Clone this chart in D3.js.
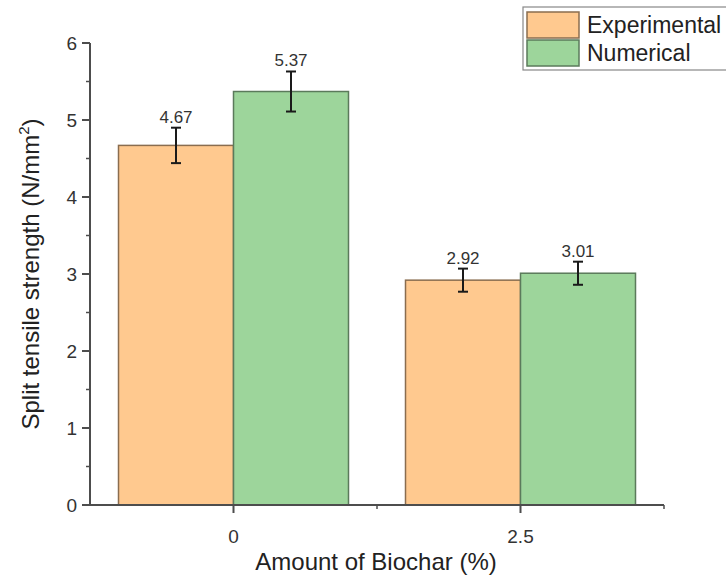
<!DOCTYPE html>
<html>
<head>
<meta charset="utf-8">
<script src="https://cdn.jsdelivr.net/npm/d3@7"></script>
<style>
  html, body { margin: 0; padding: 0; background: #fff; }
  svg { display: block; font-family: "Liberation Sans", Arial, sans-serif; }
</style>
</head>
<body>
<svg id="chart" width="726" height="578"></svg>
<script>
const categories = ["0", "2.5"];
const seriesNames = ["Experimental", "Numerical"];
const experimental = [4.67, 2.92];
const numerical = [5.37, 3.01];
const experimentalErr = [0.23, 0.15];
const numericalErr = [0.26, 0.15];
const yTicks = [0, 1, 2, 3, 4, 5, 6];
const yMinorTicks = [0.5, 1.5, 2.5, 3.5, 4.5, 5.5];
const seriesColors = ["#FFC98F", "#9DD59B"];
const seriesStroke = ["#8a6d4f", "#5b7a5b"];

const svg = d3.select("#chart");
const plotLeft = 90, plotRight = 664, plotTop = 43, plotBottom = 505;
const axisColor = "#4d4d4d";

const x = d3.scalePoint().domain(categories).range([plotLeft, plotRight]).padding(0.5);
const xs = d3.scaleBand().domain(seriesNames).range([-115, 115]).padding(0);
const y = d3.scaleLinear().domain([0, 6]).range([plotBottom, plotTop]);

const rows = categories.map((c, i) => ({
  cat: c,
  vals: [
    { s: seriesNames[0], v: experimental[i], e: experimentalErr[i], k: 0 },
    { s: seriesNames[1], v: numerical[i], e: numericalErr[i], k: 1 }
  ]
}));

// Bars
const g = svg.append("g");
const groups = g.selectAll("g.grp").data(rows).enter().append("g")
  .attr("transform", d => `translate(${x(d.cat)},0)`);

groups.selectAll("rect").data(d => d.vals).enter().append("rect")
  .attr("x", d => xs(d.s))
  .attr("width", xs.bandwidth())
  .attr("y", d => y(d.v))
  .attr("height", d => y(0) - y(d.v))
  .attr("fill", d => seriesColors[d.k])
  .attr("stroke", d => seriesStroke[d.k])
  .attr("stroke-width", 1.5);

// Error bars
const eb = groups.selectAll("g.err").data(d => d.vals).enter().append("g")
  .attr("transform", d => `translate(${xs(d.s) + xs.bandwidth() / 2},0)`);
eb.append("line").attr("x1", 0).attr("x2", 0)
  .attr("y1", d => y(d.v + d.e)).attr("y2", d => y(d.v - d.e))
  .attr("stroke", "#1a1a1a").attr("stroke-width", 2);
eb.append("line").attr("x1", -5).attr("x2", 5)
  .attr("y1", d => y(d.v + d.e)).attr("y2", d => y(d.v + d.e))
  .attr("stroke", "#1a1a1a").attr("stroke-width", 2);
eb.append("line").attr("x1", -5).attr("x2", 5)
  .attr("y1", d => y(d.v - d.e)).attr("y2", d => y(d.v - d.e))
  .attr("stroke", "#1a1a1a").attr("stroke-width", 2);
eb.append("text")
  .attr("x", 0).attr("y", d => y(d.v + d.e) - 5)
  .attr("text-anchor", "middle")
  .attr("font-size", 17).attr("fill", "#333")
  .text(d => d.v.toFixed(2));

// Y axis
const yAxis = svg.append("g");
yAxis.append("line").attr("x1", plotLeft).attr("x2", plotLeft).attr("y1", plotTop).attr("y2", plotBottom + 1)
  .attr("stroke", axisColor).attr("stroke-width", 2);
yAxis.selectAll("line.maj").data(yTicks).enter().append("line")
  .attr("x1", plotLeft - 8).attr("x2", plotLeft).attr("y1", d => y(d)).attr("y2", d => y(d))
  .attr("stroke", axisColor).attr("stroke-width", 2);
yAxis.selectAll("line.min").data(yMinorTicks).enter().append("line")
  .attr("x1", plotLeft - 4).attr("x2", plotLeft).attr("y1", d => y(d)).attr("y2", d => y(d))
  .attr("stroke", axisColor).attr("stroke-width", 1.5);
yAxis.selectAll("text").data(yTicks).enter().append("text")
  .attr("x", plotLeft - 13).attr("y", d => y(d)).attr("dy", "0.35em")
  .attr("text-anchor", "end").attr("font-size", 19).attr("fill", "#333")
  .text(d => d);

// X axis
const xAxis = svg.append("g");
xAxis.append("line").attr("x1", plotLeft - 1).attr("x2", plotRight).attr("y1", plotBottom).attr("y2", plotBottom)
  .attr("stroke", axisColor).attr("stroke-width", 2);
xAxis.selectAll("line.maj").data(categories).enter().append("line")
  .attr("x1", d => x(d)).attr("x2", d => x(d)).attr("y1", plotBottom).attr("y2", plotBottom + 8)
  .attr("stroke", axisColor).attr("stroke-width", 2);
const xMinor = [(x(categories[0]) + x(categories[1])) / 2, plotRight];
xAxis.selectAll("line.min").data(xMinor).enter().append("line")
  .attr("x1", d => d).attr("x2", d => d).attr("y1", plotBottom).attr("y2", plotBottom + 4)
  .attr("stroke", axisColor).attr("stroke-width", 1.5);
xAxis.selectAll("text").data(categories).enter().append("text")
  .attr("x", d => x(d)).attr("y", 543)
  .attr("text-anchor", "middle").attr("font-size", 19).attr("fill", "#333")
  .text(d => d);

// Axis titles
svg.append("text").attr("x", (plotLeft + plotRight) / 2 - 1).attr("y", 570)
  .attr("text-anchor", "middle").attr("font-size", 24).attr("fill", "#222")
  .text("Amount of Biochar (%)");

const yt = svg.append("text")
  .attr("transform", `translate(39,${(plotTop + plotBottom) / 2}) rotate(-90)`)
  .attr("text-anchor", "middle").attr("font-size", 24).attr("fill", "#222");
yt.append("tspan").text("Split tensile strength (N/mm");
yt.append("tspan").attr("font-size", 15).attr("dy", -10).text("2");
yt.append("tspan").attr("dy", 10).text(")");

// Legend
const lg = svg.append("g");
lg.append("rect").attr("x", 523).attr("y", 7).attr("width", 210).attr("height", 63)
  .attr("fill", "#fff").attr("stroke", "#888").attr("stroke-width", 1.2);
const li = lg.selectAll("g.li").data(seriesNames).enter().append("g")
  .attr("transform", (d, i) => `translate(527,${12 + i * 28})`);
li.append("rect").attr("width", 52).attr("height", 26)
  .attr("fill", (d, i) => seriesColors[i])
  .attr("stroke", (d, i) => seriesStroke[i]).attr("stroke-width", 1.5);
li.append("text").attr("x", 60).attr("y", 13).attr("dy", "0.35em")
  .attr("font-size", 23).attr("fill", "#222").text(d => d);
</script>
</body>
</html>
